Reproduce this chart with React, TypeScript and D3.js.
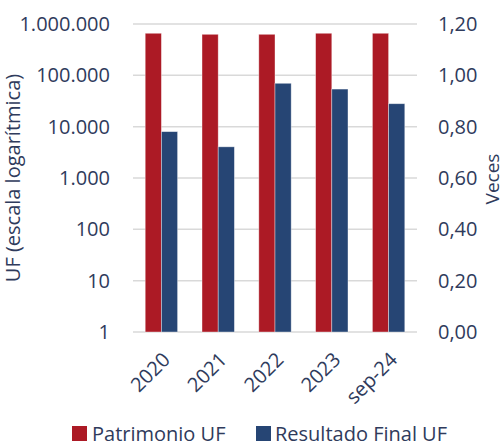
import * as d3 from "d3";
import React from "react";

const categories = ["2020", "2021", "2022", "2023", "sep-24"];
const patrimonio = [660000, 630000, 630000, 660000, 660000];
const resultado = [8000, 4050, 70000, 54000, 28000];
const leftTicks = [1, 10, 100, 1000, 10000, 100000, 1000000];
const rightTicks = [0, 0.2, 0.4, 0.6, 0.8, 1.0, 1.2];
const seriesNames = ["Patrimonio UF", "Resultado Final UF"];
const colors = ["#ac1a25", "#264574"];

const W = 503;
const H = 445;
const margin = { top: 24, right: 86, bottom: 113, left: 133 };
const FONT = "'Open Sans', sans-serif";
const TEXT = "#2f3b5c";

export default function App() {
  const innerW = W - margin.left - margin.right;
  const innerH = H - margin.top - margin.bottom;

  const x = d3.scaleBand().domain(categories).range([0, innerW]).paddingInner(0.43).paddingOuter(0.215);
  const x1 = d3.scaleBand().domain(seriesNames).range([0, x.bandwidth()]);
  const yLeft = d3.scaleLog().domain([1, 1000000]).range([innerH, 0]);
  const yRight = d3.scaleLinear().domain([0, 1.2]).range([innerH, 0]);

  const fmtLeft = (v: number) => d3.format(",")(v).replace(/,/g, ".");
  const fmtRight = (v: number) => v.toFixed(2).replace(".", ",");

  const values = [patrimonio, resultado];

  return (
    <svg width={W} height={H} style={{ position: "absolute", left: 0, top: 0, fontFamily: FONT }}>
      <rect width={W} height={H} fill="#fff" />
      <g transform={`translate(${margin.left},${margin.top})`}>
        {leftTicks.map((t) => (
          <line key={t} x1={0} x2={innerW} y1={yLeft(t)} y2={yLeft(t)} stroke="#d9d9d9" strokeWidth={1.5} />
        ))}
        {categories.map((c, i) =>
          seriesNames.map((s, j) => {
            const v = values[j][i];
            const bx = (x(c) ?? 0) + (x1(s) ?? 0);
            return (
              <rect
                key={c + s}
                x={bx}
                y={yLeft(v)}
                width={x1.bandwidth()}
                height={innerH - yLeft(v)}
                fill={colors[j]}
                stroke="#ffffff"
                strokeOpacity={0.5}
                strokeWidth={0.75}
              />
            );
          })
        )}
        {leftTicks.map((t) => (
          <text key={t} x={-23} y={yLeft(t)} dy="0.35em" textAnchor="end" fontSize={20} fill={TEXT}>
            {fmtLeft(t)}
          </text>
        ))}
        {rightTicks.map((t) => (
          <text key={t} x={innerW + 21} y={yRight(t)} dy="0.35em" textAnchor="start" fontSize={20} fill={TEXT}>
            {fmtRight(t)}
          </text>
        ))}
        {categories.map((c) => {
          const cx = (x(c) ?? 0) + x.bandwidth() / 2 + 5;
          const cy = innerH + 24;
          return (
            <text
              key={c}
              transform={`translate(${cx},${cy}) rotate(-45)`}
              textAnchor="end"
              dy="0.35em"
              fontSize={20}
              fill={TEXT}
            >
              {c}
            </text>
          );
        })}
        <text
          transform={`translate(${-113},${innerH / 2}) rotate(-90)`}
          textAnchor="middle"
          fontSize={20}
          fill={TEXT}
        >
          UF (escala logarítmica)
        </text>
        <text
          transform={`translate(${innerW + 81.5},${innerH / 2 + 1}) rotate(-90)`}
          textAnchor="middle"
          fontSize={19}
          fill={TEXT}
        >
          Veces
        </text>
      </g>
      <g transform={`translate(72,426)`}>
        <rect x={0} y={0} width={15} height={15} fill={colors[0]} />
        <text x={20} y={7.5} dy="0.35em" fontSize={20} fill={TEXT}>
          {seriesNames[0]}
        </text>
        <rect x={184} y={0} width={15} height={15} fill={colors[1]} />
        <text x={203} y={7.5} dy="0.35em" fontSize={20} fill={TEXT}>
          {seriesNames[1]}
        </text>
      </g>
    </svg>
  );
}
